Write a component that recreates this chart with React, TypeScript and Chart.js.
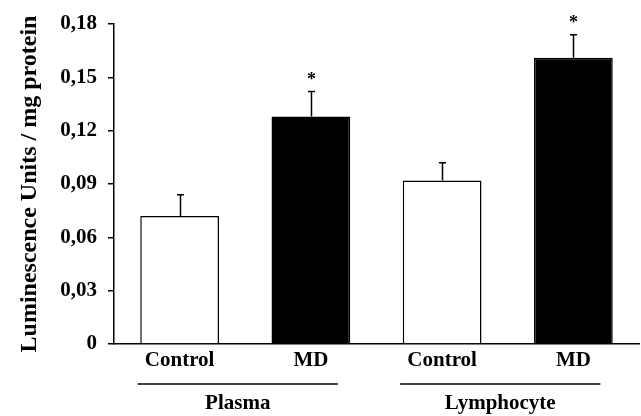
import React, { useEffect, useRef } from 'react';
import { Chart, registerables } from 'chart.js';

Chart.register(...registerables);

const categories = ['Control', 'MD', 'Control', 'MD'];
const values = [0.072, 0.128, 0.092, 0.161];
const errors = [0.012, 0.014, 0.010, 0.013];
const significant = [false, true, false, true];
const barColors = ['#ffffff', '#000000', '#ffffff', '#000000'];
const groupLabels = ['Plasma', 'Lymphocyte'];
const groupMembers = [[0, 1], [2, 3]];
const yTitle = 'Luminescence Units / mg protein';
const yMin = 0;
const yMax = 0.18;
const yStep = 0.03;

const FONT = '"Liberation Serif", "Times New Roman", serif';

const formatTick = (v: number) => {
  const r = Math.round(v * 100) / 100;
  return r === 0 ? '0' : r.toFixed(2).replace('.', ',');
};

const annotationsPlugin = {
  id: 'annotations',
  afterDatasetsDraw(chart: any) {
    const { ctx, scales, chartArea } = chart;
    const x = scales.x;
    const y = scales.y;
    ctx.save();
    ctx.strokeStyle = '#000';
    ctx.fillStyle = '#000';
    ctx.lineWidth = 1.5;
    values.forEach((v, i) => {
      const px = Math.round(x.getPixelForValue(i)) + 0.5;
      const top = y.getPixelForValue(v);
      const cap = y.getPixelForValue(v + errors[i]);
      ctx.beginPath();
      ctx.moveTo(px, top);
      ctx.lineTo(px, cap);
      ctx.moveTo(px - 3.5, cap);
      ctx.lineTo(px + 3.5, cap);
      ctx.stroke();
      if (significant[i]) {
        ctx.font = `bold 18px ${FONT}`;
        ctx.textAlign = 'center';
        ctx.textBaseline = 'alphabetic';
        ctx.fillText('*', px, cap - 16 + 9);
      }
    });
    groupMembers.forEach((m, g) => {
      const a = x.getPixelForValue(m[0]);
      const b = x.getPixelForValue(m[m.length - 1]);
      const x0 = a - 42;
      const x1 = b + 27;
      const ly = chartArea.bottom + 40;
      ctx.beginPath();
      ctx.lineWidth = 1.5;
      ctx.moveTo(x0, ly);
      ctx.lineTo(x1, ly);
      ctx.stroke();
      ctx.font = `bold 21px ${FONT}`;
      ctx.textAlign = 'center';
      ctx.textBaseline = 'alphabetic';
      ctx.fillText(groupLabels[g], (x0 + x1) / 2, chartArea.bottom + 65);
    });
    ctx.restore();
  },
};

export default function App() {
  const ref = useRef<HTMLCanvasElement | null>(null);
  useEffect(() => {
    if (!ref.current) return;
    const chart = new Chart(ref.current, {
      type: 'bar',
      data: {
        labels: categories,
        datasets: [
          {
            data: values,
            backgroundColor: barColors,
            borderColor: '#000',
            borderWidth: 1.5,
            barPercentage: 0.6,
            categoryPercentage: 1,
          },
        ],
      },
      options: {
        responsive: false,
        animation: false,
        devicePixelRatio: 1,
        layout: { padding: { top: 24, right: 2, bottom: 0, left: 0 } },
        plugins: {
          legend: { display: false },
          tooltip: { enabled: false },
        },
        scales: {
          x: {
            grid: { display: false, drawTicks: false },
            border: { display: true, color: '#000', width: 1.5 },
            ticks: {
              color: '#000',
              padding: 4,
              font: { family: FONT, size: 21, weight: 'bold' },
            },
            afterFit: (s: any) => {
              s.height = 72;
            },
          },
          y: {
            min: yMin,
            max: yMax,
            grid: {
              display: true,
              drawOnChartArea: false,
              drawTicks: true,
              tickLength: 6,
              color: '#000',
              lineWidth: 1.5,
            },
            border: { display: true, color: '#000', width: 1.5 },
            ticks: {
              stepSize: yStep,
              color: '#000',
              padding: 11,
              font: { family: FONT, size: 21, weight: 'bold' },
              callback: (v: any) => formatTick(Number(v)),
            },
            title: {
              display: true,
              text: yTitle,
              color: '#000',
              padding: { top: 15, bottom: 0 },
              font: { family: FONT, size: 24, weight: 'bold' },
            },
            afterFit: (s: any) => {
              s.width = 114;
            },
          },
        },
      },
      plugins: [annotationsPlugin],
    });
    return () => chart.destroy();
  }, []);
  return (
    <div style={{ position: 'absolute', left: 0, top: 0, width: 641, height: 416, background: '#fff' }}>
      <canvas ref={ref} width={641} height={416} style={{ display: 'block' }} />
    </div>
  );
}
